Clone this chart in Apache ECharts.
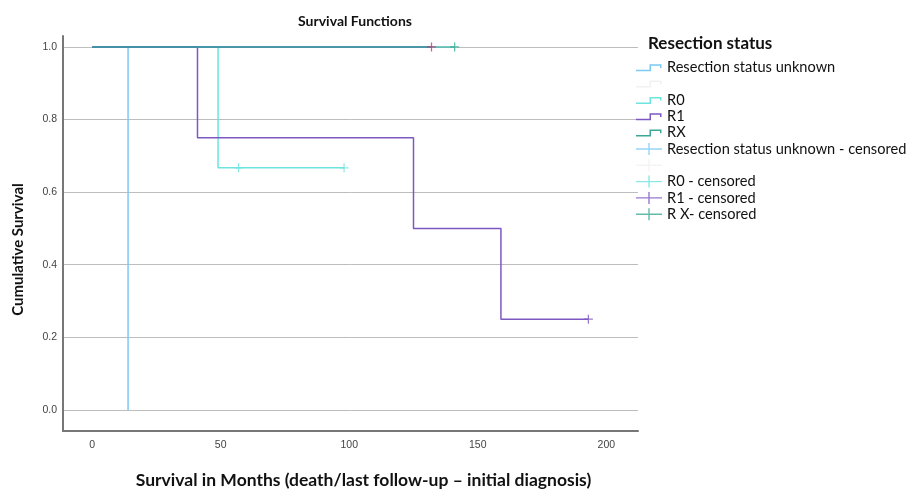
<!DOCTYPE html>
<html>
<head>
<meta charset="utf-8">
<script src="https://cdn.jsdelivr.net/npm/echarts@6/dist/echarts.min.js"></script>
<style>
  html, body { margin: 0; padding: 0; background: #fff; }
  #chart { width: 911px; height: 494px; }
</style>
</head>
<body>
<div id="chart"></div>
<script>
// survival curves (time in months, cumulative survival) -- step drawn at each point
const unknownCurve = [[0, 1], [14, 0]]
const r0Curve = [[0, 1], [49, 0.667], [98, 0.667]]
const r1Curve = [[0, 1], [41, 0.75], [125, 0.5], [159, 0.25], [193, 0.25]]
const rxCurve = [[0, 1], [141, 1]]
const blankCurve = [[0, 1], [132, 1]] // unnamed group, drawn dark over the others

// censored observations
const r0Censored = [[57, 0.667], [98, 0.667]]
const r1Censored = [[193, 0.25]]
const rxCensored = [[141, 1]]
const blankCensored = [[132, 1]]

const xTicks = [0, 50, 100, 150, 200]
const yTicks = [0, 0.2, 0.4, 0.6, 0.8, 1.0]

const colors = {
  unknown: '#7cc9f4',
  r0: '#6ee4df',
  r1: '#7e58c2',
  rx: '#4cbdb2',
  blank: '#3f87a0',
  blankCens: '#c23a6e'
}

// legend icons, drawn in a 26x14 box (tiny corner dots keep the box size)
const box = 'M0,0 h0.01 v0.01 h-0.01 Z M26,14 h-0.01 v-0.01 h0.01 Z '
const stepIcon = 'path://' + box +
  'M0,9.3 H15 V10.8 H0 Z M13.5,3.8 H15 V10.8 H13.5 Z M13.5,3.8 H25.5 V5.3 H13.5 Z M24,3.8 H25.5 V7.5 H24 Z'
const plusIcon = 'path://' + box + 'M0,6.3 H26 V7.7 H0 Z M12.3,1 H13.7 V13 H12.3 Z'
const plusMark = 'path://M0,4.3 H10 V5.7 H0 Z M4.3,0 H5.7 V10 H4.3 Z'

function stepLine(name, data, color, z) {
  return {
    name: name,
    type: 'line',
    step: 'end',
    data: data,
    showSymbol: false,
    symbol: 'none',
    z: z || 2,
    itemStyle: { color: color },
    lineStyle: { color: color, width: 1.5 },
    emphasis: { disabled: true }
  }
}

function censored(name, data, color) {
  return {
    name: name,
    type: 'scatter',
    data: data,
    symbol: plusMark,
    symbolSize: 9,
    z: 6,
    itemStyle: { color: color },
    emphasis: { disabled: true }
  }
}

function legendItem(name, icon, color) {
  return { name: name, icon: icon, itemStyle: { color: color, borderWidth: 0 } }
}

const chart = echarts.init(document.getElementById('chart'))

chart.setOption({
  animation: false,
  textStyle: { fontFamily: 'Lato' },
  title: [
    {
      text: 'Survival Functions',
      left: 350,
      textAlign: 'center',
      top: 9,
      textStyle: { fontFamily: 'Lato', fontWeight: 'bold', fontSize: 14, color: '#111' }
    },
    {
      text: 'Resection status',
      left: 643,
      top: 30,
      textStyle: { fontFamily: 'Lato', fontWeight: 'bold', fontSize: 17, color: '#111' }
    }
  ],
  legend: {
    orient: 'vertical',
    left: 636,
    top: 60,
    padding: 0,
    itemWidth: 26,
    itemHeight: 14,
    itemGap: 1.3,
    selectedMode: false,
    textStyle: { fontFamily: 'Lato', fontSize: 14.6, color: '#111' },
    data: [
      legendItem('Resection status unknown', stepIcon, colors.unknown),
      legendItem(' ', stepIcon, '#f1f1f1'),
      legendItem('R0', stepIcon, colors.r0),
      legendItem('R1', stepIcon, colors.r1),
      legendItem('RX', stepIcon, '#3ea898'),
      legendItem('Resection status unknown - censored', plusIcon, colors.unknown),
      legendItem('  ', plusIcon, '#f1f1f1'),
      legendItem('R0 - censored', plusIcon, colors.r0),
      legendItem('R1 - censored', plusIcon, colors.r1),
      legendItem('R X- censored', plusIcon, '#3ea898')
    ]
  },
  grid: {
    left: 63,
    right: 273,
    top: 36,
    bottom: 62
  },
  xAxis: {
    type: 'value',
    min: -11.3,
    max: 212.3,
    name: 'Survival in Months (death/last follow-up \u2013 initial diagnosis)',
    nameLocation: 'middle',
    nameGap: 40,
    nameTextStyle: {
      fontFamily: 'Lato', fontWeight: 'bold', fontSize: 17.5, color: '#111',
      padding: [0, 0, 0, 26]
    },
    axisLine: { show: true, onZero: false, lineStyle: { color: '#777', width: 2 } },
    axisTick: { show: false, customValues: xTicks },
    axisLabel: {
      customValues: xTicks,
      margin: 9,
      fontFamily: 'Liberation Sans',
      fontSize: 10.5,
      color: '#444'
    },
    splitLine: { show: false }
  },
  yAxis: {
    type: 'value',
    min: -0.058,
    max: 1.03,
    name: 'Cumulative Survival',
    nameLocation: 'middle',
    nameGap: 37,
    nameTextStyle: {
      fontFamily: 'Lato', fontWeight: 'bold', fontSize: 15, color: '#111',
      padding: [0, 32, 0, 0]
    },
    axisLine: { show: true, onZero: false, lineStyle: { color: '#777', width: 2 } },
    axisTick: { show: false, customValues: yTicks },
    axisLabel: {
      customValues: yTicks,
      margin: 6,
      fontFamily: 'Liberation Sans',
      fontSize: 10.5,
      color: '#444',
      formatter: v => v.toFixed(1)
    },
    splitLine: { show: true, lineStyle: { color: '#bdbdbd', width: 1 } }
  },
  series: [
    stepLine('Resection status unknown', unknownCurve, colors.unknown),
    stepLine('R0', r0Curve, colors.r0),
    stepLine('R1', r1Curve, colors.r1),
    stepLine('RX', rxCurve, colors.rx),
    stepLine(' ', blankCurve, colors.blank, 3),
    censored('Resection status unknown - censored', [], colors.unknown),
    censored('  ', blankCensored, colors.blankCens),
    censored('R0 - censored', r0Censored, colors.r0),
    censored('R1 - censored', r1Censored, colors.r1),
    censored('R X- censored', rxCensored, '#3aa898')
  ]
})
</script>
</body>
</html>
